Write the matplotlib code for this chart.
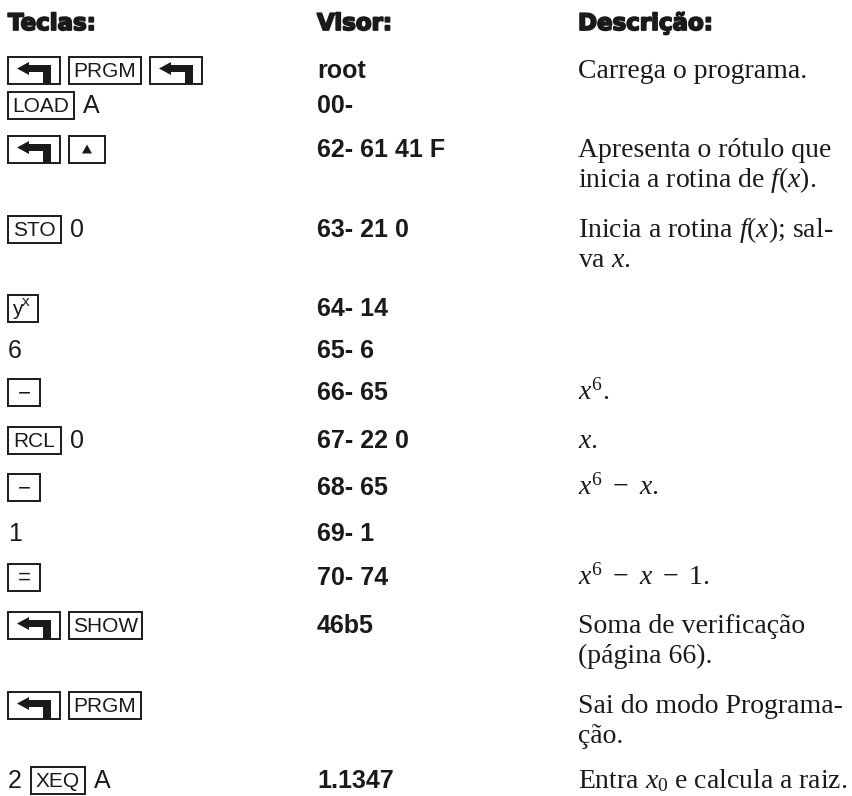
#!/usr/bin/env python3
# Programa "root" - tabela de teclas / visor / descricao
import matplotlib
matplotlib.use('Agg')
import matplotlib.pyplot as plt
import matplotlib.patheffects as pe
from matplotlib.patches import Rectangle, Polygon

# dados da tabela
headers = ['Teclas:', 'Visor:', 'Descrição:']

# "[X]" = tecla em caixa, "SHIFT" = tecla de mudanca (seta), resto = texto
keys = [
    ['SHIFT', '[PRGM]', 'SHIFT'],
    ['[LOAD]', 'A'],
    ['SHIFT', '[UP]'],
    ['[STO]', '0'],
    ['[YX]'],
    ['6'],
    ['[-]'],
    ['[RCL]', '0'],
    ['[-]'],
    ['1'],
    ['[=]'],
    ['SHIFT', '[SHOW]'],
    ['SHIFT', '[PRGM]'],
    ['2', '[XEQ]', 'A'],
]

visor = ['root', '00-', '62- 61 41 F', '63- 21 0', '64- 14', '65- 6',
         '66- 65', '67- 22 0', '68- 65', '69- 1', '70- 74', '46b5', '',
         '1.1347']

descricao = [
    'Carrega o programa.',
    '',
    'Apresenta o rótulo que\ninicia a rotina de $f(x)$.',
    'Inicia a rotina $f(x)$; sal-\nva $x$.',
    '',
    '',
    '$x^6$.',
    '$x$.',
    '$x^6\\ -\\ x$.',
    '',
    '$x^6\\ -\\ x\\ -\\ 1$.',
    'Soma de verificação\n(página 66).',
    'Sai do modo Programa-\nção.',
    'Entra $x_0$ e calcula a raiz.',
]

# layout (pixels, origem no topo)
W, H = 853, 796
header_y = 30
row_y = [78, 113, 157, 237, 316, 358, 400, 448, 495, 541, 585, 633, 713, 788]
col_x = [8, 317, 578]
line_gap = 30
key_w = {'SHIFT': 52, 'PRGM': 72, 'LOAD': 66, 'UP': 36, 'STO': 53, 'YX': 30,
         '-': 32, 'RCL': 53, '=': 32, 'SHOW': 73, 'XEQ': 54}

plt.rcParams['mathtext.fontset'] = 'custom'
plt.rcParams['mathtext.rm'] = 'Liberation Serif'
plt.rcParams['mathtext.it'] = 'Liberation Serif:italic'

fig = plt.figure(figsize=(W / 100, H / 100), dpi=100)
ax = fig.add_axes([0, 0, 1, 1])
ax.set_xlim(0, W)
ax.set_ylim(H, 0)
ax.axis('off')

sans = 'Liberation Sans'
serif = 'Liberation Serif'
ink = '#1a1a1a'


def draw_box(x, base, w):
    top, bot = base - 21, base + 6
    ax.add_patch(Rectangle((x, top), w, bot - top, fill=False,
                           lw=1.4, ec=ink))
    return top, bot


def draw_shift(x, base):
    w = key_w['SHIFT']
    top, bot = draw_box(x, base, w)
    # barra + descida
    ax.add_patch(Polygon([(x + 20, top + 8), (x + 43, top + 8), (x + 43, bot),
                          (x + 35, bot), (x + 35, top + 15), (x + 20, top + 15)],
                         closed=True, fc=ink, ec='none'))
    # ponta da seta
    ax.add_patch(Polygon([(x + 9, top + 11.5), (x + 21, top + 5),
                          (x + 21, top + 18)], closed=True, fc=ink, ec='none'))
    return x + w


def draw_key(tok, x, base):
    if tok == 'SHIFT':
        return draw_shift(x, base)
    if tok.startswith('['):
        name = tok[1:-1]
        w = key_w[name]
        top, bot = draw_box(x, base, w)
        cx, cy = x + w / 2, (top + bot) / 2
        if name == 'UP':
            ax.add_patch(Polygon([(cx - 5, cy + 4), (cx + 5, cy + 4), (cx, cy - 5)],
                                 closed=True, fc=ink, ec='none'))
        elif name == 'YX':
            ax.text(x + 4, base - 1, 'y', fontsize=15, family=sans, color=ink)
            ax.text(x + 14, base - 10, 'x', fontsize=11, family=sans, color=ink)
        elif name in ('-', '='):
            ax.text(cx, cy + 1, '−' if name == '-' else '=', fontsize=16,
                    family=sans, color=ink, ha='center', va='center')
        else:
            ax.text(cx, base - 1, name, fontsize=15, family=sans, color=ink,
                    ha='center', va='baseline')
        return x + w
    ax.text(x, base, tok, fontsize=18, family=sans, color=ink, va='baseline')
    return x + 11 * len(tok) + 3


# cabecalhos (negrito pesado)
heavy = [pe.withStroke(linewidth=1.3, foreground=ink)]
for hx, h in zip(col_x, headers):
    ax.text(hx, header_y, h, fontsize=16.5, family='DejaVu Sans',
            weight='bold', color=ink, va='baseline', path_effects=heavy)

for i, base in enumerate(row_y):
    x = col_x[0]
    for tok in keys[i]:
        x = draw_key(tok, x, base) + 9
    if visor[i]:
        ax.text(col_x[1], base, visor[i], fontsize=18, family=sans,
                weight='bold', color=ink, va='baseline')
    if descricao[i]:
        for j, line in enumerate(descricao[i].split('\n')):
            ax.text(col_x[2], base + j * line_gap, line, fontsize=20,
                    family=serif, color=ink, va='baseline')

fig.savefig('out.png', dpi=100)
